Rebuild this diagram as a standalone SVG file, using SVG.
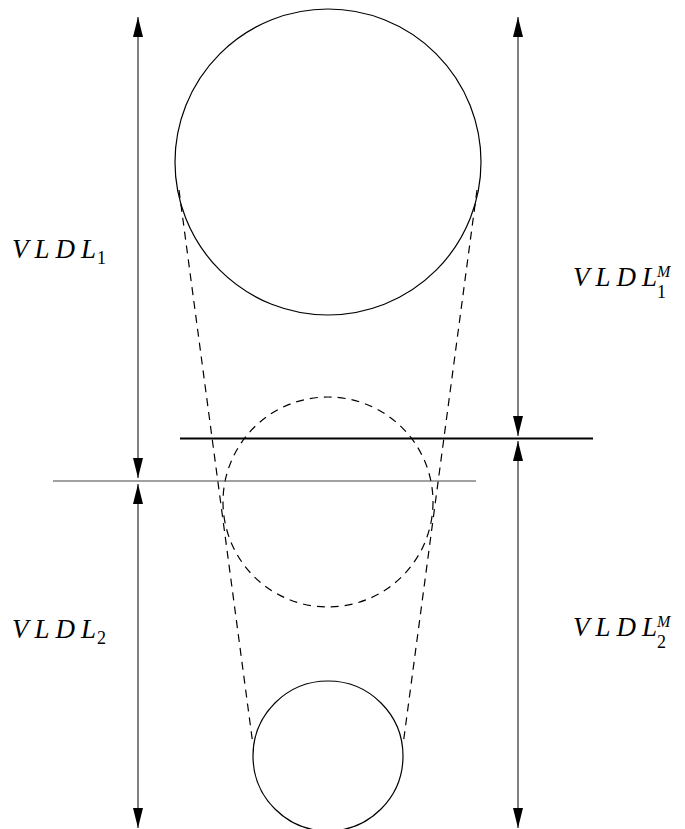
<svg xmlns="http://www.w3.org/2000/svg" width="685" height="829" viewBox="0 0 685 829">
<style>
.c{fill:none;stroke:#000;stroke-width:1.2}
.d{fill:none;stroke:#000;stroke-width:1.2;stroke-dasharray:8,6}
.a{stroke:#000;stroke-width:1;fill:none}
.t{font-family:'Liberation Serif','DejaVu Serif',serif;font-style:italic;font-size:27px;fill:#000}
.s{font-family:'Liberation Serif','DejaVu Serif',serif;font-size:18px;fill:#000}
.m{font-family:'Liberation Serif','DejaVu Serif',serif;font-style:italic;font-size:16px;fill:#000}
</style>
<defs>
<marker id="ah" viewBox="0 0 20 10" refX="20" refY="5" markerWidth="20" markerHeight="10" markerUnits="userSpaceOnUse" orient="auto"><path d="M0,0 L20,5 L0,10 Z" fill="#000"/></marker>
</defs>
<rect width="685" height="829" fill="#fff"/>
<g id="circle-top"><circle class="c" cx="328" cy="162" r="153"/></g>
<g id="circle-mid"><circle class="d" cx="328" cy="502" r="105"/></g>
<g id="circle-bottom"><circle class="c" cx="328" cy="756" r="75"/></g>
<g id="connectors">
<line class="d" x1="179" y1="190" x2="253" y2="745"/>
<line class="d" x1="477" y1="190" x2="403" y2="745"/>
<line x1="53" y1="481" x2="476" y2="481" stroke="#444" stroke-width="1.2"/>
<line x1="180" y1="438.5" x2="593" y2="438.5" stroke="#000" stroke-width="2.2"/>
<line class="a" x1="138" y1="250" x2="138" y2="17" marker-end="url(#ah)"/>
<line class="a" x1="138" y1="250" x2="138" y2="478" marker-end="url(#ah)"/>
<line class="a" x1="138" y1="650" x2="138" y2="484" marker-end="url(#ah)"/>
<line class="a" x1="138" y1="650" x2="138" y2="828" marker-end="url(#ah)"/>
<line class="a" x1="518" y1="250" x2="518" y2="17" marker-end="url(#ah)"/>
<line class="a" x1="518" y1="250" x2="518" y2="436" marker-end="url(#ah)"/>
<line class="a" x1="518" y1="650" x2="518" y2="441" marker-end="url(#ah)"/>
<line class="a" x1="518" y1="650" x2="518" y2="828" marker-end="url(#ah)"/>
</g>
<g id="label-vldl1"><text class="t" x="12" y="258" textLength="84" lengthAdjust="spacing">VLDL</text><text class="s" x="97" y="264">1</text></g>
<g id="label-vldl1m"><text class="t" x="573" y="286" textLength="84" lengthAdjust="spacing">VLDL</text><text class="m" x="657" y="277">M</text><text class="s" x="657" y="298">1</text></g>
<g id="label-vldl2"><text class="t" x="12" y="638" textLength="84" lengthAdjust="spacing">VLDL</text><text class="s" x="97" y="644">2</text></g>
<g id="label-vldl2m"><text class="t" x="573" y="636" textLength="84" lengthAdjust="spacing">VLDL</text><text class="m" x="657" y="627">M</text><text class="s" x="657" y="648">2</text></g>
</svg>
